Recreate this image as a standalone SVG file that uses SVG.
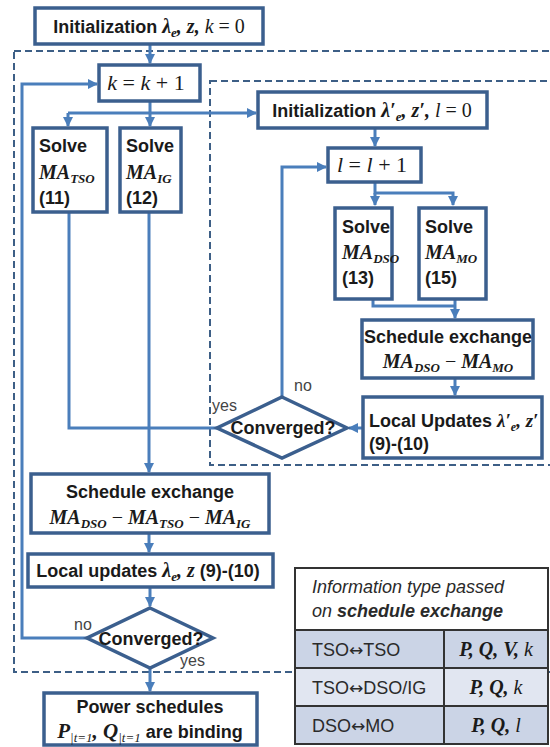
<svg xmlns="http://www.w3.org/2000/svg" width="550" height="747" viewBox="0 0 550 747">
<style>
.box{fill:#fff;stroke:#3b5f8e;stroke-width:3.5}
.con{fill:none;stroke:#4a7ebb;stroke-width:3}
.dash{fill:none;stroke:#3d5f86;stroke-width:2;stroke-dasharray:7 4}
.t{font-family:"Liberation Sans",Arial,sans-serif;font-weight:bold;font-size:18px;fill:#1a1a1a}
.ser{font-family:"Liberation Serif","Times New Roman",serif;fill:#1a1a1a}
.m{font-family:"Liberation Serif","Times New Roman",serif;font-style:italic;font-weight:normal}
.mb{font-family:"Liberation Serif","Times New Roman",serif;font-style:italic;font-weight:bold;fill:#1a1a1a}
.r{font-family:"Liberation Serif","Times New Roman",serif;font-style:normal;font-weight:normal}
.lbl{font-family:"Liberation Sans",Arial,sans-serif;font-size:16px;fill:#444}
.tb{font-family:"Liberation Sans",Arial,sans-serif;font-size:18px;fill:#2a2a2a}
.arr{font-family:"DejaVu Sans",sans-serif;font-size:17px}
.grid{fill:none;stroke:#333;stroke-width:2}
</style>
<defs>
<marker id="ah" markerWidth="10" markerHeight="10" refX="9" refY="5" orient="auto" markerUnits="userSpaceOnUse">
<path d="M0,0 L10,5 L0,10 z" fill="#4a7ebb"/>
</marker>
</defs>

<g id="frames">
<rect class="dash" x="14" y="51" width="560" height="621"/>
<rect class="dash" x="210" y="81" width="360" height="384"/>
</g>

<g id="connectors">
<path class="con" d="M150,44 V63" marker-end="url(#ah)"/>
<path class="con" d="M150,101 V113 M68,113 H256" marker-end="url(#ah)"/>
<path class="con" d="M68,113 V126" marker-end="url(#ah)"/>
<path class="con" d="M150,113 V126" marker-end="url(#ah)"/>
<path class="con" d="M87,638 H22 V84 H97" marker-end="url(#ah)"/>
<path class="con" d="M69,212 V428 H217"/>
<path class="con" d="M149,212 V472" marker-end="url(#ah)"/>
<path class="con" d="M375,128 V146" marker-end="url(#ah)"/>
<path class="con" d="M375,182 V193 H453 V205" marker-end="url(#ah)"/>
<path class="con" d="M375,193 V205" marker-end="url(#ah)"/>
<path class="con" d="M373,299 V306 H455"/>
<path class="con" d="M455,299 V318" marker-end="url(#ah)"/>
<path class="con" d="M455,378 V395" marker-end="url(#ah)"/>
<path class="con" d="M363,428 H349" marker-end="url(#ah)"/>
<path class="con" d="M282,397 V167 H326" marker-end="url(#ah)"/>
<path class="con" d="M149,533 V552" marker-end="url(#ah)"/>
<path class="con" d="M150,587 V606" marker-end="url(#ah)"/>
<path class="con" d="M150,668 V691" marker-end="url(#ah)"/>
</g>

<g id="init">
<rect class="box" x="35" y="8" width="228" height="36"/>
<text class="t" x="149" y="33" text-anchor="middle">Initialization <tspan class="mb" font-size="20">λ</tspan><tspan class="mb" font-size="13" dy="4">e</tspan><tspan class="mb" font-size="20" dy="-4">, z, </tspan><tspan class="m" font-size="20">k</tspan><tspan class="r" font-size="20"> = 0</tspan></text>
</g>

<g id="kinc">
<rect class="box" x="99" y="65" width="101" height="36"/>
<text class="ser" x="146" y="90" text-anchor="middle" font-size="22"><tspan class="m">k</tspan> = <tspan class="m">k</tspan> + 1</text>
</g>

<g id="solveTSO">
<rect class="box" x="33" y="128" width="74" height="84"/>
<text class="t" x="39" y="152">Solve</text>
<text class="mb" x="39" y="179" font-size="20">MA<tspan font-size="13" dy="4">TSO</tspan></text>
<text class="t" x="39" y="204">(11)</text>
</g>

<g id="solveIG">
<rect class="box" x="120" y="128" width="61" height="84"/>
<text class="t" x="126" y="152">Solve</text>
<text class="mb" x="126" y="179" font-size="20">MA<tspan font-size="13" dy="4">IG</tspan></text>
<text class="t" x="126" y="204">(12)</text>
</g>

<g id="initInner">
<rect class="box" x="258" y="92" width="229" height="36"/>
<text class="t" x="372" y="117" text-anchor="middle">Initialization <tspan class="mb" font-size="20">λ′</tspan><tspan class="mb" font-size="13" dy="4">e</tspan><tspan class="mb" font-size="20" dy="-4">, z′, </tspan><tspan class="m" font-size="20">l</tspan><tspan class="r" font-size="20"> = 0</tspan></text>
</g>

<g id="linc">
<rect class="box" x="328" y="148" width="93" height="34"/>
<text class="ser" x="372" y="172" text-anchor="middle" font-size="22"><tspan class="m">l</tspan> = <tspan class="m">l</tspan> + 1</text>
</g>

<g id="solveDSO">
<rect class="box" x="335" y="208" width="57" height="91"/>
<text class="t" x="342" y="233">Solve</text>
<text class="mb" x="342" y="259" font-size="20">MA<tspan font-size="13" dy="4">DSO</tspan></text>
<text class="t" x="342" y="284">(13)</text>
</g>

<g id="solveMO">
<rect class="box" x="419" y="208" width="67" height="91"/>
<text class="t" x="425" y="233">Solve</text>
<text class="mb" x="425" y="259" font-size="20">MA<tspan font-size="13" dy="4">MO</tspan></text>
<text class="t" x="425" y="284">(15)</text>
</g>

<g id="schedInner">
<rect class="box" x="362" y="320" width="171" height="58"/>
<text class="t" x="448" y="343" text-anchor="middle">Schedule exchange</text>
<text class="mb" x="448" y="368" font-size="20" text-anchor="middle">MA<tspan font-size="13" dy="4">DSO</tspan><tspan class="r" dy="-4"> − </tspan>MA<tspan font-size="13" dy="4">MO</tspan></text>
</g>

<g id="localInner">
<rect class="box" x="363" y="397" width="179" height="61"/>
<text class="t" x="369" y="427" font-size="17">Local Updates <tspan class="mb" font-size="19">λ′</tspan><tspan class="mb" font-size="12" dy="4">e</tspan><tspan class="mb" font-size="19" dy="-4">, z′</tspan></text>
<text class="t" x="369" y="450">(9)-(10)</text>
</g>

<g id="convInner">
<polygon class="box" points="282,397 347,428 282,458 217,428"/>
<text class="t" x="283" y="434" text-anchor="middle">Converged?</text>
<text class="lbl" x="294" y="391">no</text>
<text class="lbl" x="212" y="411">yes</text>
</g>

<g id="schedOuter">
<rect class="box" x="31" y="474" width="238" height="59"/>
<text class="t" x="150" y="498" text-anchor="middle">Schedule exchange</text>
<text class="mb" x="150" y="524" font-size="20" text-anchor="middle">MA<tspan font-size="13" dy="4">DSO</tspan><tspan class="r" dy="-4"> − </tspan>MA<tspan font-size="13" dy="4">TSO</tspan><tspan class="r" dy="-4"> − </tspan>MA<tspan font-size="13" dy="4">IG</tspan></text>
</g>

<g id="localOuter">
<rect class="box" x="28" y="554" width="245" height="33"/>
<text class="t" x="148" y="577" text-anchor="middle">Local updates <tspan class="mb" font-size="20">λ</tspan><tspan class="mb" font-size="13" dy="4">e</tspan><tspan class="mb" font-size="20" dy="-4">, z</tspan> (9)-(10)</text>
</g>

<g id="convOuter">
<polygon class="box" points="150,608 213,638 150,668 87,638"/>
<text class="t" x="151" y="645" text-anchor="middle">Converged?</text>
<text class="lbl" x="74" y="630">no</text>
<text class="lbl" x="180" y="666">yes</text>
</g>

<g id="power">
<rect class="box" x="44" y="693" width="213" height="52"/>
<text class="t" x="150" y="713" text-anchor="middle">Power schedules</text>
<text class="t" x="150" y="738" text-anchor="middle"><tspan class="mb" font-size="21">P</tspan><tspan class="m" font-size="13" dy="4">|t=1</tspan><tspan class="mb" font-size="21" dy="-4">, Q</tspan><tspan class="m" font-size="13" dy="4">|t=1</tspan><tspan dy="-4"> are binding</tspan></text>
</g>

<g id="table">
<rect x="295" y="568" width="253" height="62" fill="#fff"/>
<rect x="295" y="630" width="253" height="38" fill="#cbd4e6"/>
<rect x="295" y="668" width="253" height="38" fill="#e1e6f1"/>
<rect x="295" y="706" width="253" height="38" fill="#cbd4e6"/>
<rect class="grid" x="295" y="568" width="253" height="176"/>
<path class="grid" d="M295,630 H548 M295,668 H548 M295,706 H548 M444,630 V744"/>
<text class="tb" x="312" y="593" font-style="italic">Information type passed</text>
<text class="tb" x="312" y="617" font-style="italic">on <tspan font-weight="bold">schedule exchange</tspan></text>
<text class="tb" x="312" y="656">TSO<tspan class="arr">↔</tspan>TSO</text>
<text class="tb" x="312" y="694">TSO<tspan class="arr">↔</tspan>DSO/IG</text>
<text class="tb" x="312" y="732">DSO<tspan class="arr">↔</tspan>MO</text>
<text class="mb" x="496" y="656" font-size="20" text-anchor="middle">P, Q, V, <tspan class="m">k</tspan></text>
<text class="mb" x="496" y="694" font-size="20" text-anchor="middle">P, Q, <tspan class="m">k</tspan></text>
<text class="mb" x="496" y="732" font-size="20" text-anchor="middle">P, Q, <tspan class="m">l</tspan></text>
</g>
</svg>
